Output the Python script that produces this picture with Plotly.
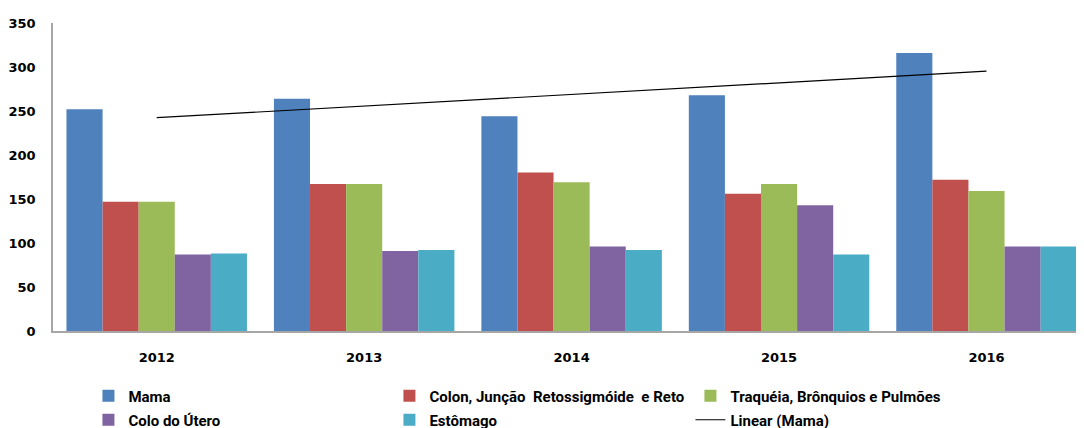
#!/usr/bin/env python3
import numpy as np
import plotly.graph_objs as go

years = ["2012", "2013", "2014", "2015", "2016"]

mama = [252, 264, 244, 268, 316]
colon = [147, 167, 180, 156, 172]
traqueia = [147, 167, 169, 167, 159]
colo_utero = [87, 91, 96, 143, 96]
estomago = [88, 92, 92, 87, 96]

series_names = [
    "Mama",
    "Colon, Junção  Retossigmóide  e Reto",
    "Traquéia, Brônquios e Pulmões",
    "Colo do Útero",
    "Estômago",
]
trend_name = "Linear (Mama)"

y_ticks = [0, 50, 100, 150, 200, 250, 300, 350]

colors = ["#4F81BD", "#C0504D", "#9BBB59", "#8064A2", "#4BACC6"]
tick_font = dict(family="DejaVu Sans", size=13, color="#000000", weight=700)
legend_font = dict(family="Roboto", size=15, color="#000000", weight=700)

# linear trend of the Mama series (least squares, like Excel's trendline)
xs = np.arange(len(years))
slope, intercept = np.polyfit(xs, mama, 1)
trend = list(slope * xs + intercept)

fig = go.Figure()
all_series = [mama, colon, traqueia, colo_utero, estomago]
legend_of = ["legend", "legend", "legend", "legend2", "legend2"]
for name, vals, col, lg in zip(series_names, all_series, colors, legend_of):
    fig.add_trace(
        go.Bar(
            x=years,
            y=vals,
            name=name,
            marker=dict(color=col, line=dict(width=0)),
            legend=lg,
        )
    )

fig.add_trace(
    go.Scatter(
        x=years,
        y=trend,
        name=trend_name,
        mode="lines",
        line=dict(color="#000000", width=1.2),
        legend="legend2",
    )
)

legend_common = dict(
    orientation="h",
    xref="container",
    yref="container",
    xanchor="left",
    yanchor="middle",
    font=legend_font,
    entrywidth=256,
    entrywidthmode="pixels",
    traceorder="normal",
    bgcolor="rgba(0,0,0,0)",
    itemclick=False,
)

# the page body adds an 8px offset, so margins are trimmed by that much
fig.update_layout(
    width=1084,
    height=428,
    margin=dict(l=45, r=8, t=15, b=105, autoexpand=False),
    paper_bgcolor="#FFFFFF",
    plot_bgcolor="#FFFFFF",
    barmode="group",
    bargap=0.13,
    bargroupgap=0,
    showlegend=True,
    legend=dict(legend_common, x=0.0742, y=1 - 388 / 428),
    legend2=dict(legend_common, x=0.0742, y=1 - 412 / 428),
    xaxis=dict(
        type="category",
        range=[-0.5, 4.47],
        showgrid=False,
        showline=True,
        linecolor="#A6A6A6",
        linewidth=1.5,
        ticks="",
        tickfont=tick_font,
        ticklabelstandoff=14,
    ),
    yaxis=dict(
        range=[0, 350],
        tickvals=y_ticks,
        showgrid=False,
        zeroline=False,
        showline=True,
        linecolor="#A6A6A6",
        linewidth=1.5,
        ticks="",
        tickfont=tick_font,
        ticklabelstandoff=13,
    ),
)

fig.write_html("out.html")
